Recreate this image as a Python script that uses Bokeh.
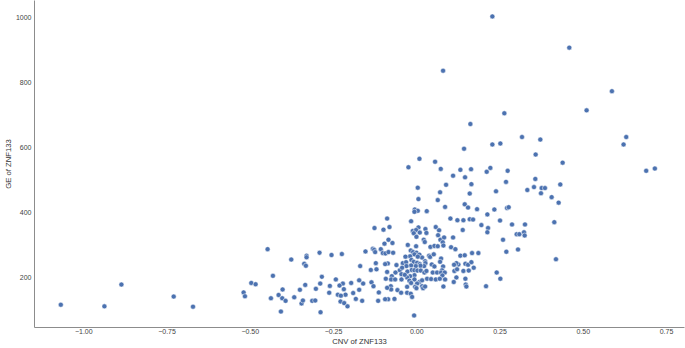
from bokeh.plotting import figure
from bokeh.models import Range1d, FixedTicker, ColumnDataSource
from bokeh.embed import file_html
from bokeh.resources import INLINE

# CNV of ZNF133 (x) and GE of ZNF133 (y)
cnv_low = [-1.069, -0.938, -0.887, -0.730, -0.672, -0.448, -0.520, -0.516, -0.497, -0.484,
           -0.432, -0.438, -0.415, -0.403, -0.404, -0.394, -0.408, -0.377, -0.368, -0.351,
           -0.346, -0.342, -0.338, -0.333, -0.331, -0.331, -0.335, -0.314, -0.305, -0.303,
           -0.292, -0.290, -0.289, -0.285, -0.261, -0.263, -0.256]
ge_low = [115, 110, 177, 140, 109, 286, 153, 141, 182, 178,
          204, 135, 145, 162, 135, 127, 94, 254, 138, 161,
          119, 128, 241, 235, 266, 261, 176, 127, 128, 164,
          275, 180, 92, 201, 173, 152, 268]

cnv_mid = [-0.089, -0.127, -0.082, -0.100, -0.085, -0.073, -0.097, -0.108, -0.132, -0.128,
           -0.125, -0.102, -0.094, -0.085, -0.071, -0.154, -0.225, -0.170, -0.061, -0.087,
           -0.095, -0.123, -0.051, -0.064, -0.075, -0.089, -0.121, -0.138, -0.093, -0.077,
           -0.065, -0.136, -0.161, -0.173, -0.197, -0.222, -0.232, -0.243, -0.130, -0.114,
           -0.078, -0.077, -0.089, -0.058, -0.086, -0.095, -0.116, -0.067, -0.164, -0.183,
           -0.173, -0.191, -0.219, -0.214, -0.237, -0.228, -0.229, -0.218, -0.208]
ge_mid = [380, 351, 354, 346, 315, 305, 303, 286, 287, 284,
          277, 274, 273, 277, 275, 279, 271, 234, 237, 242,
          240, 243, 221, 214, 203, 216, 224, 222, 195, 193,
          193, 184, 180, 190, 182, 180, 174, 193, 172, 153,
          172, 162, 167, 160, 132, 132, 127, 133, 127, 133,
          161, 151, 163, 146, 146, 143, 125, 120, 110]

cnv_core = [0.227, 0.079, 0.161, 0.227, 0.251, 0.142, 0.008, 0.055, -0.025, 0.072,
            0.131, 0.163, 0.221, 0.210, 0.109, 0.145, 0.088, 0.164, 0.003, 0.070,
            0.159, 0.238, 0.005, 0.063, 0.144, 0.154, 0.085, 0.181, 0.233, 0.212,
            -0.006, 0.003, -0.007, 0.030, -0.017, 0.101, 0.122, 0.140, 0.159, 0.169,
            0.194, 0.250, 0.005, 0.057, 0.138, 0.214, 0.212, -0.012, -0.002, -0.009,
            0.009, -0.001, 0.026, 0.029, 0.067, 0.064, 0.071, 0.082, 0.078, 0.021,
            0.024, 0.109, -0.027, -0.002, 0.041, 0.053, 0.063, 0.080, 0.103, 0.116,
            -0.018, -0.011, -0.001, -0.007, 0.008, -0.020, -0.034, 0.016, 0.003, 0.037,
            0.040, 0.051, 0.073, 0.131, 0.144, 0.166, 0.185, -0.042, -0.032, -0.016,
            -0.009, 0.001, 0.009, 0.025, 0.026, 0.022, 0.011, -0.003, -0.017, -0.031,
            -0.044, 0.045, 0.053, 0.070, 0.079, 0.076, 0.125, 0.146, 0.154, 0.164,
            0.119, 0.112, -0.046, -0.028, -0.015, -0.007, 0.002, 0.012, 0.023, 0.029,
            -0.007, -0.020, -0.029, -0.036, 0.048, 0.061, 0.073, 0.084, 0.077, 0.113,
            0.140, 0.156, 0.171, 0.121, -0.046, -0.022, -0.007, 0.008, 0.001, 0.016,
            0.031, 0.043, 0.057, 0.069, 0.085, 0.119, 0.146, 0.111, 0.240, 0.251,
            -0.029, -0.017, -0.005, -0.001, 0.016, 0.019, 0.025, 0.080, 0.147, 0.149,
            0.208, -0.047, -0.029, -0.018, -0.014, -0.008]
ge_core = [1002, 835, 671, 608, 611, 595, 564, 555, 538, 533,
           530, 532, 536, 524, 512, 507, 484, 486, 475, 461,
           457, 464, 440, 437, 424, 414, 416, 409, 408, 393,
           408, 404, 401, 403, 372, 380, 375, 375, 378, 377,
           360, 374, 353, 354, 345, 351, 338, 342, 345, 335,
           337, 324, 348, 336, 344, 329, 315, 322, 307, 315,
           308, 322, 299, 295, 293, 296, 295, 297, 292, 286,
           282, 277, 275, 270, 269, 264, 263, 260, 263, 266,
           262, 270, 257, 266, 267, 274, 274, 243, 246, 253,
           247, 244, 240, 249, 243, 234, 235, 234, 236, 234,
           229, 239, 233, 247, 233, 221, 239, 241, 238, 246,
           243, 238, 209, 217, 222, 221, 220, 220, 214, 219,
           206, 203, 199, 207, 214, 214, 214, 214, 205, 219,
           219, 220, 229, 224, 193, 189, 193, 185, 180, 190,
           195, 194, 193, 195, 193, 199, 195, 185, 214, 195,
           170, 182, 170, 166, 172, 166, 171, 171, 177, 171,
           172, 152, 152, 149, 139, 82]

cnv_high = [0.458, 0.586, 0.510, 0.263, 0.316, 0.371, 0.629, 0.621,
            0.357, 0.438, 0.273, 0.268, 0.356, 0.352, 0.375, 0.385, 0.431, 0.332,
            0.373, 0.405, 0.426, 0.689, 0.715, 0.271, 0.276, 0.286, 0.325, 0.413,
            0.300, 0.308, 0.322, 0.324, 0.259, 0.269, 0.304, 0.418]
ge_high = [906, 772, 713, 704, 631, 623, 631, 608,
           577, 552, 527, 493, 502, 477, 474, 474, 485, 468,
           458, 446, 429, 527, 534, 413, 415, 362, 362, 369,
           332, 332, 338, 328, 315, 278, 285, 255]

x_ticks = [-1.0, -0.75, -0.5, -0.25, 0.0, 0.25, 0.5, 0.75]
x_tick_labels = ["\u22121.00", "\u22120.75", "\u22120.50", "\u22120.25", "0.00", "0.25", "0.50", "0.75"]
y_ticks = [200, 400, 600, 800, 1000]
y_tick_labels = ["200", "400", "600", "800", "1000"]

cnv = cnv_low + cnv_mid + cnv_core + cnv_high
ge = ge_low + ge_mid + ge_core + ge_high
src = ColumnDataSource(dict(x=cnv, y=ge))

p = figure(width=685, height=348, output_backend="svg", toolbar_location=None,
           x_range=Range1d(-1.148, 0.804), y_range=Range1d(45, 1051),
           min_border_left=0, min_border_right=1, min_border_top=0, min_border_bottom=0)
p.outline_line_color = None
p.grid.visible = False
p.background_fill_color = "white"

p.scatter("x", "y", source=src, size=5, fill_color="#4c72b0", line_color="white", line_width=0.5)

p.xaxis.ticker = FixedTicker(ticks=x_ticks)
p.xaxis.major_label_overrides = dict(zip(x_ticks, x_tick_labels))
p.yaxis.ticker = FixedTicker(ticks=y_ticks)
p.yaxis.major_label_overrides = dict(zip(y_ticks, y_tick_labels))
p.xaxis.axis_label = "CNV of ZNF133"
p.yaxis.axis_label = "GE of ZNF133"

for ax in (p.xaxis, p.yaxis):
    ax.axis_line_color = "#8c8c8c"
    ax.axis_line_width = 1
    ax.major_tick_in = 0
    ax.major_tick_out = 0
    ax.minor_tick_line_color = None
    ax.major_label_text_font = "Liberation Sans"
    ax.major_label_text_font_size = "7px"
    ax.major_label_text_color = "#444444"
    ax.axis_label_text_font = "Liberation Sans"
    ax.axis_label_text_font_size = "7.7px"
    ax.axis_label_text_font_style = "normal"
    ax.axis_label_text_color = "#333333"

p.xaxis.major_label_standoff = 1
p.xaxis.axis_label_standoff = 0
p.yaxis.major_label_standoff = 3
p.yaxis.axis_label_standoff = 0

open("out.html", "w").write(file_html(p, INLINE))
